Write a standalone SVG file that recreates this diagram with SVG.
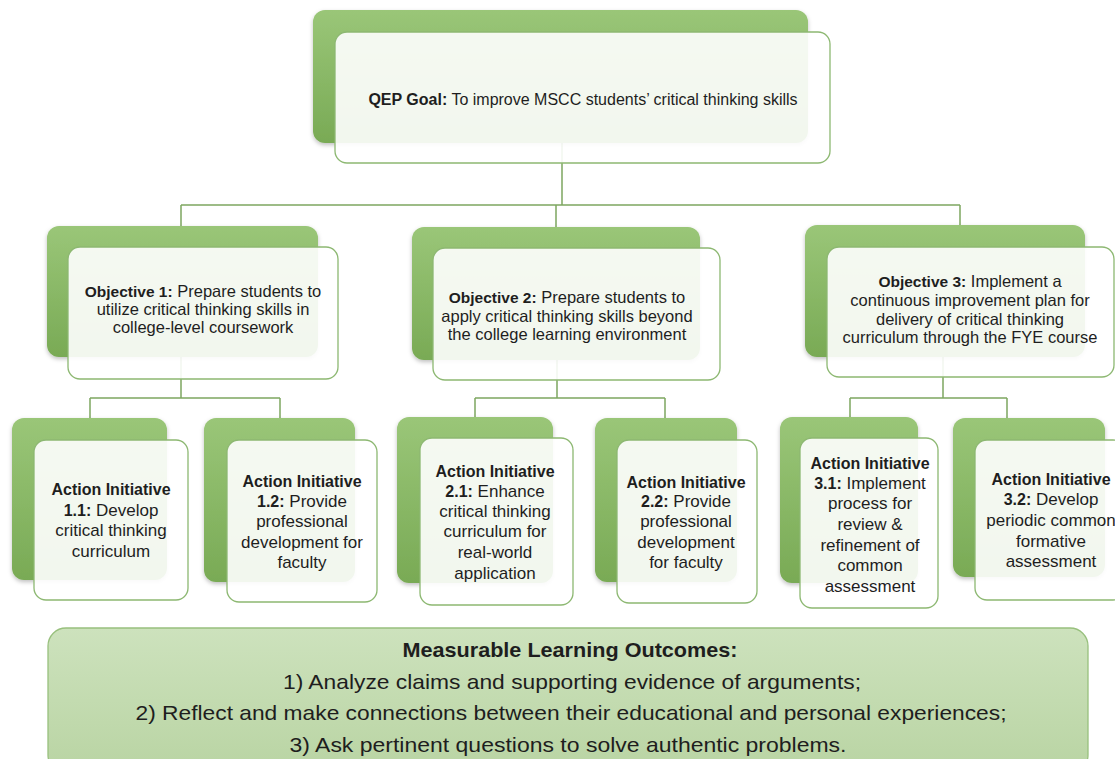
<svg xmlns="http://www.w3.org/2000/svg" width="1115" height="759" viewBox="0 0 1115 759">
<defs>
<linearGradient id="gb" x1="0" y1="0" x2="0" y2="1">
<stop offset="0" stop-color="#9ac678"/>
<stop offset="1" stop-color="#79aa55"/>
</linearGradient>
<linearGradient id="gm" x1="0" y1="0" x2="0" y2="1">
<stop offset="0" stop-color="#cde2bd"/>
<stop offset="1" stop-color="#b9d4a3"/>
</linearGradient>
<filter id="sh" x="-10%" y="-10%" width="125%" height="125%">
<feDropShadow dx="0" dy="2" stdDeviation="2" flood-color="#000" flood-opacity="0.25"/>
</filter>
</defs>
<style>
.back{fill:url(#gb);filter:url(#sh)}
.front{fill:#ffffff;fill-opacity:0.9;stroke:#8db872;stroke-width:1.3}
.conn{fill:none;stroke:#7ea760;stroke-width:1.5}
text{font-family:"Liberation Sans",Arial,sans-serif;fill:#1e1e1e;text-anchor:middle}
.obj{font-size:16.5px}
.obj .b{font-size:15.5px}
.act{font-size:17px}
.act .b{font-size:16px}
.b{font-weight:bold}
.mlo{font-size:21px}
</style>
<rect width="1115" height="759" fill="#ffffff"/>
<g id="connectors">
<path class="conn" d="M562 143 V205 M181 205 H960 M181 205 V226 M556 205 V227 M960 205 V225"/>
<path class="conn" d="M181 357 V398 M90 398 H280 M90 398 V418 M280 398 V418"/>
<path class="conn" d="M557 360 V398 M475 398 H665 M475 398 V417 M665 398 V418"/>
<path class="conn" d="M943 357 V398 M850 398 H1007 M850 398 V417 M1007 398 V418"/>
</g>
<g id="goal">
<rect class="back" x="313" y="10" width="495" height="133" rx="12"/>
<rect class="front" x="335" y="32" width="495" height="131" rx="12"/>
<text x="583" y="105" style="font-size:16px"><tspan class="b">QEP Goal:</tspan> To improve MSCC students’ critical thinking skills</text>
</g>
<g id="objective1">
<rect class="back" x="47" y="226" width="271" height="131" rx="12"/>
<rect class="front" x="68" y="247" width="270" height="132" rx="12"/>
<text class="obj" x="203" y="297"><tspan class="b">Objective 1:</tspan> Prepare students to</text>
<text class="obj" x="203" y="315">utilize critical thinking skills in</text>
<text class="obj" x="203" y="333">college-level coursework</text>
</g>
<g id="objective2">
<rect class="back" x="412" y="227" width="288" height="133" rx="12"/>
<rect class="front" x="433" y="248" width="287" height="132" rx="12"/>
<text class="obj" x="567" y="303"><tspan class="b">Objective 2:</tspan> Prepare students to</text>
<text class="obj" x="567" y="322">apply critical thinking skills beyond</text>
<text class="obj" x="567" y="340">the college learning environment</text>
</g>
<g id="objective3">
<rect class="back" x="805" y="225" width="280" height="132" rx="12"/>
<rect class="front" x="827" y="247" width="287" height="130" rx="12"/>
<text class="obj" x="970" y="287"><tspan class="b">Objective 3:</tspan> Implement a</text>
<text class="obj" x="970" y="306">continuous improvement plan for</text>
<text class="obj" x="970" y="325">delivery of critical thinking</text>
<text class="obj" x="970" y="343">curriculum through the FYE course</text>
</g>
<g id="action11">
<rect class="back" x="12" y="418" width="155" height="162" rx="12"/>
<rect class="front" x="34" y="440" width="154" height="160" rx="12"/>
<text class="act" x="111" y="495"><tspan class="b">Action Initiative</tspan></text>
<text class="act" x="111" y="516"><tspan class="b">1.1:</tspan> Develop</text>
<text class="act" x="111" y="536">critical thinking</text>
<text class="act" x="111" y="557">curriculum</text>
</g>
<g id="action12">
<rect class="back" x="204" y="418" width="151" height="164" rx="12"/>
<rect class="front" x="227" y="440" width="150" height="162" rx="12"/>
<text class="act" x="302" y="487"><tspan class="b">Action Initiative</tspan></text>
<text class="act" x="302" y="507"><tspan class="b">1.2:</tspan> Provide</text>
<text class="act" x="302" y="527">professional</text>
<text class="act" x="302" y="548">development for</text>
<text class="act" x="302" y="568">faculty</text>
</g>
<g id="action21">
<rect class="back" x="397" y="417" width="156" height="166" rx="12"/>
<rect class="front" x="420" y="438" width="153" height="167" rx="12"/>
<text class="act" x="495" y="477"><tspan class="b">Action Initiative</tspan></text>
<text class="act" x="495" y="497"><tspan class="b">2.1:</tspan> Enhance</text>
<text class="act" x="495" y="517">critical thinking</text>
<text class="act" x="495" y="537">curriculum for</text>
<text class="act" x="495" y="558">real-world</text>
<text class="act" x="495" y="579">application</text>
</g>
<g id="action22">
<rect class="back" x="595" y="418" width="142" height="164" rx="12"/>
<rect class="front" x="617" y="440" width="140" height="163" rx="12"/>
<text class="act" x="686" y="488"><tspan class="b">Action Initiative</tspan></text>
<text class="act" x="686" y="507"><tspan class="b">2.2:</tspan> Provide</text>
<text class="act" x="686" y="527">professional</text>
<text class="act" x="686" y="548">development</text>
<text class="act" x="686" y="568">for faculty</text>
</g>
<g id="action31">
<rect class="back" x="780" y="417" width="138" height="166" rx="12"/>
<rect class="front" x="800" y="438" width="138" height="170" rx="12"/>
<text class="act" x="870" y="469"><tspan class="b">Action Initiative</tspan></text>
<text class="act" x="870" y="489"><tspan class="b">3.1:</tspan> Implement</text>
<text class="act" x="870" y="509">process for</text>
<text class="act" x="870" y="530">review &amp;</text>
<text class="act" x="870" y="551">refinement of</text>
<text class="act" x="870" y="571">common</text>
<text class="act" x="870" y="592">assessment</text>
</g>
<g id="action32">
<rect class="back" x="953" y="418" width="152" height="159" rx="12"/>
<rect class="front" x="975" y="440" width="150" height="160" rx="12"/>
<text class="act" x="1051" y="485"><tspan class="b">Action Initiative</tspan></text>
<text class="act" x="1051" y="505"><tspan class="b">3.2:</tspan> Develop</text>
<text class="act" x="1051" y="526">periodic common</text>
<text class="act" x="1051" y="547">formative</text>
<text class="act" x="1051" y="567">assessment</text>
</g>
<g id="outcomes">
<rect x="48" y="628" width="1040" height="145" rx="18" fill="url(#gm)" stroke="#98c07d" stroke-width="1.3"/>
<text class="mlo b" x="570" y="657" textLength="335" lengthAdjust="spacingAndGlyphs">Measurable Learning Outcomes:</text>
<text class="mlo" x="572" y="689" textLength="578" lengthAdjust="spacingAndGlyphs">1) Analyze claims and supporting evidence of arguments;</text>
<text class="mlo" x="571" y="720" textLength="871" lengthAdjust="spacingAndGlyphs">2) Reflect and make connections between their educational and personal experiences;</text>
<text class="mlo" x="568" y="752" textLength="557" lengthAdjust="spacingAndGlyphs">3) Ask pertinent questions to solve authentic problems.</text>
</g>
</svg>
